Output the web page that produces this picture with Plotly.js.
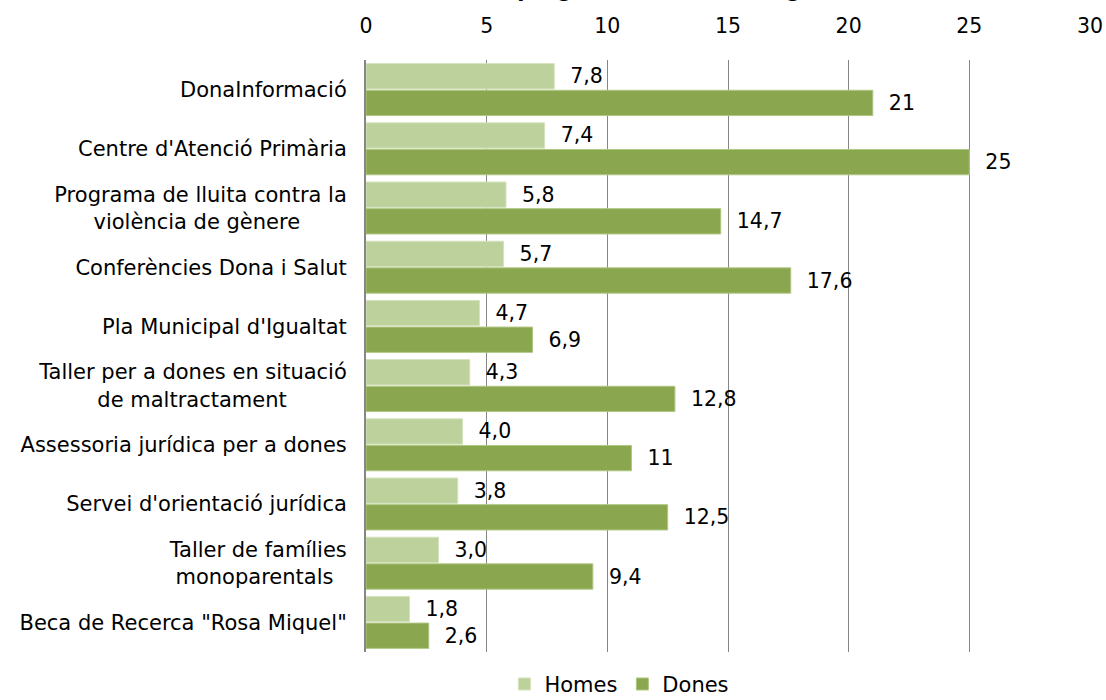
<!DOCTYPE html>
<html>
<head>
<meta charset="utf-8">
<script src="https://cdn.plot.ly/plotly-3.0.1.min.js"></script>
<style>html,body{margin:0;padding:0;background:#fff;}#chart{width:1106px;height:700px;}</style>
</head>
<body>
<div id="chart"></div>
<script>
const titleText = "Grau de coneixement dels programes i serveis segons sexe";
const categories = [
  "DonaInformació",
  "Centre d'Atenció Primària",
  "Programa de lluita contra la<br>violència de gènere\u00a0\u00a0\u00a0\u00a0\u00a0\u00a0\u00a0",
  "Conferències Dona i Salut",
  "Pla Municipal d'Igualtat",
  "Taller per a dones en situació<br>de maltractament\u00a0\u00a0\u00a0\u00a0\u00a0\u00a0\u00a0\u00a0\u00a0",
  "Assessoria jurídica per a dones",
  "Servei d'orientació jurídica",
  "Taller de famílies<br>monoparentals\u00a0\u00a0",
  "Beca de Recerca \"Rosa Miquel\""
];
const homes = [7.8, 7.4, 5.8, 5.7, 4.7, 4.3, 4.0, 3.8, 3.0, 1.8];
const dones = [21, 25, 14.7, 17.6, 6.9, 12.8, 11, 12.5, 9.4, 2.6];
const homesLabels = ["7,8", "7,4", "5,8", "5,7", "4,7", "4,3", "4,0", "3,8", "3,0", "1,8"];
const donesLabels = ["21", "25", "14,7", "17,6", "6,9", "12,8", "11", "12,5", "9,4", "2,6"];
const xTicks = [0, 5, 10, 15, 20, 25, 30];

const FONT = "DejaVu Sans, Verdana, sans-serif";

const traces = [
  {
    type: "bar", orientation: "h", name: "Homes",
    y: categories, x: homes, text: homesLabels,
    texttemplate: "\u00a0\u00a0%{text}", textposition: "outside", cliponaxis: false,
    textfont: {family: FONT, size: 20.5, color: "#000"},
    marker: {color: "#bcd19b", line: {color: "#d4e2bd", width: 1}},
    hoverinfo: "x+y"
  },
  {
    type: "bar", orientation: "h", name: "Dones",
    y: categories, x: dones, text: donesLabels,
    texttemplate: "\u00a0\u00a0%{text}", textposition: "outside", cliponaxis: false,
    textfont: {family: FONT, size: 20.5, color: "#000"},
    marker: {color: "#8aa64f", line: {color: "#b0c783", width: 1}},
    hoverinfo: "x+y"
  }
];

const layout = {
  width: 1106, height: 700,
  margin: {l: 366, r: 16, t: 60, b: 48, pad: 0, autoexpand: false},
  paper_bgcolor: "#fff", plot_bgcolor: "#fff",
  font: {family: FONT, size: 20, color: "#000"},
  annotations: [{
    text: "<b>" + titleText + "</b>",
    font: {family: FONT, size: 21, color: "#000"},
    xref: "paper", x: 0.258, xanchor: "center",
    yref: "paper", y: 1, yanchor: "bottom", yshift: 56,
    showarrow: false
  }],
  barmode: "group", bargap: 0.1, bargroupgap: 0.05,
  showlegend: true,
  legend: {
    orientation: "h", x: 0.35, xanchor: "center", y: -0.02, yanchor: "top",
    font: {family: FONT, size: 21, color: "#000"},
    traceorder: "normal", itemwidth: 30
  },
  xaxis: {
    side: "top", range: [0, 30], tickvals: xTicks, ticktext: xTicks.map(String),
    showgrid: true, gridcolor: "#868686", gridwidth: 1,
    zeroline: false, showline: false, ticks: "", ticklabelstandoff: 22,
    tickfont: {family: FONT, size: 20.5, color: "#000"}, fixedrange: true
  },
  yaxis: {
    autorange: "reversed", type: "category",
    showline: true, linecolor: "#868686", linewidth: 2,
    showgrid: false, ticks: "", ticklabelstandoff: 13,
    tickfont: {family: FONT, size: 21, color: "#000"}, fixedrange: true
  }
};

Plotly.newPlot("chart", traces, layout, {displayModeBar: false, staticPlot: true});
</script>
</body>
</html>
